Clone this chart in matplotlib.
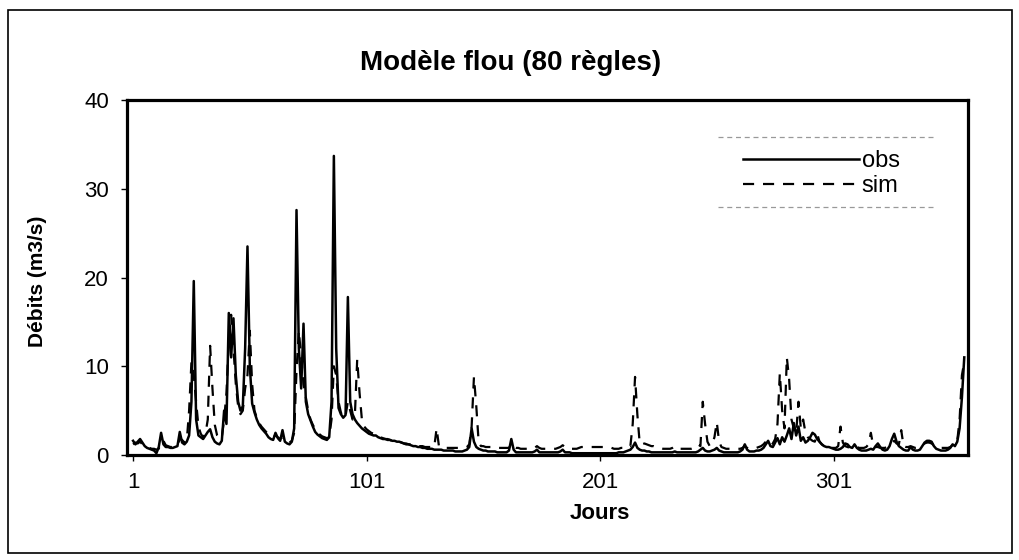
import numpy as np
import matplotlib
matplotlib.use("Agg")
import matplotlib.pyplot as plt
from matplotlib.patches import Rectangle
from matplotlib.lines import Line2D

plt.rcParams['font.family'] = ['Liberation Sans', 'DejaVu Sans']

# Daily discharge (m3/s), day 1 .. 357
obs = [
    1.6, 1.2, 1.5, 1.8, 1.4, 1.0, 0.8, 0.7, 0.6, 0.5,
    0.2, 0.9, 2.5, 1.2, 0.9, 0.9, 0.8, 0.8, 0.9, 1.0,
    2.6, 1.4, 1.2, 1.5, 2.2, 6.0, 19.6, 4.0, 2.2, 2.0,
    1.8, 2.2, 2.6, 2.9, 2.0, 1.5, 1.3, 1.2, 1.6, 5.0,
    3.5, 16.0, 11.0, 15.4, 9.0, 6.0, 5.0, 5.5, 12.0, 23.5,
    10.0, 5.8, 4.8, 4.0, 3.4, 3.0, 2.7, 2.4, 2.0, 1.8,
    1.7, 2.5, 1.9, 1.6, 2.8, 1.5, 1.3, 1.2, 1.5, 3.0,
    27.6, 12.0, 7.5, 14.8, 6.0, 4.6, 3.9, 3.2, 2.6, 2.3,
    2.1, 1.9, 1.8, 1.7, 2.0, 6.0, 33.7, 12.0, 5.3, 4.6,
    4.2, 4.5, 17.8, 6.0, 4.6, 4.0, 3.6, 3.3, 3.0, 2.8,
    2.6, 2.4, 2.3, 2.2, 2.2, 2.0, 1.9, 1.8, 1.8, 1.7,
    1.7, 1.6, 1.6, 1.5, 1.5, 1.4, 1.3, 1.2, 1.2, 1.1,
    1.0, 1.0, 0.9, 0.9, 0.8, 0.8, 0.7, 0.7, 0.7, 0.6,
    0.6, 0.6, 0.6, 0.5, 0.5, 0.5, 0.5, 0.5, 0.4, 0.4,
    0.4, 0.4, 0.5, 0.6, 0.9, 3.0, 1.5, 0.9, 0.7, 0.6,
    0.5, 0.5, 0.4, 0.4, 0.4, 0.4, 0.3, 0.3, 0.3, 0.3,
    0.3, 0.5, 1.8, 0.6, 0.3, 0.3, 0.3, 0.3, 0.3, 0.3,
    0.3, 0.3, 0.4, 0.6, 0.3, 0.3, 0.3, 0.3, 0.3, 0.3,
    0.3, 0.3, 0.3, 0.4, 0.6, 0.3, 0.3, 0.3, 0.2, 0.2,
    0.2, 0.2, 0.2, 0.2, 0.2, 0.2, 0.2, 0.2, 0.2, 0.2,
    0.2, 0.2, 0.2, 0.2, 0.2, 0.2, 0.2, 0.2, 0.3, 0.3,
    0.3, 0.4, 0.5, 0.6, 0.9, 1.4, 0.8, 0.6, 0.5, 0.5,
    0.4, 0.4, 0.3, 0.3, 0.3, 0.3, 0.3, 0.3, 0.3, 0.3,
    0.3, 0.3, 0.4, 0.3, 0.3, 0.3, 0.3, 0.3, 0.3, 0.3,
    0.3, 0.3, 0.4, 0.6, 0.8, 0.5, 0.4, 0.4, 0.5, 0.6,
    0.8, 0.5, 0.4, 0.3, 0.3, 0.3, 0.3, 0.3, 0.3, 0.3,
    0.4, 0.6, 1.2, 0.6, 0.4, 0.4, 0.4, 0.5, 0.5, 0.6,
    0.8, 1.2, 1.6, 1.0, 0.9, 1.4, 1.9, 1.2, 2.0, 1.5,
    2.2, 3.0, 1.8, 3.6, 2.2, 3.2, 1.6, 2.0, 1.4, 1.6,
    2.0, 2.5, 2.3, 1.8, 1.5, 1.2, 1.0, 0.9, 0.9, 0.8,
    0.7, 0.6, 0.6, 0.7, 0.9, 1.3, 1.2, 0.9, 0.8, 1.2,
    0.8, 0.6, 0.5, 0.5, 0.5, 0.6, 0.7, 0.6, 1.0, 1.3,
    0.9, 0.6, 0.5, 0.6, 1.0, 1.8, 2.4, 1.5, 1.0, 0.8,
    0.6, 0.5, 0.5, 0.9, 0.6, 0.5, 0.5, 0.6, 1.0, 1.4,
    1.6, 1.6, 1.5, 1.0, 0.7, 0.6, 0.5, 0.5, 0.5, 0.6,
    0.8, 1.2, 1.0, 1.5, 3.0, 6.5, 11.0,
]

sim = [
    1.2, 1.4, 1.3, 1.5, 1.2, 1.0, 0.9, 0.8, 0.7, 0.7,
    0.6, 0.7, 1.5, 1.6, 1.1, 1.0, 0.9, 0.9, 1.0, 1.1,
    1.8, 1.7, 1.4, 1.6, 5.0, 10.5, 9.0, 6.0, 3.2, 2.4,
    2.0, 2.4, 4.0, 12.3, 7.5, 3.4, 2.2, 1.8, 2.0, 4.0,
    7.0, 13.0, 15.8, 12.0, 8.0, 5.5, 4.6, 5.0, 7.5, 9.0,
    14.0, 8.0, 5.0, 4.2, 3.6, 3.2, 2.9, 2.6, 2.3, 2.1,
    2.0, 2.2, 2.0, 1.8, 2.0, 1.7, 1.5, 1.4, 1.6, 2.5,
    9.5, 14.0, 11.0, 8.0, 6.5, 5.0, 4.0, 3.4, 2.9, 2.6,
    2.3, 2.1, 2.0, 1.9, 2.0, 4.0, 10.0, 9.0, 6.0, 4.8,
    4.2, 4.4, 6.0, 5.0, 4.0, 4.5, 10.8, 7.0, 4.0, 3.2,
    2.9, 2.7, 2.5, 2.4, 2.3, 2.1, 2.0, 1.9, 1.8, 1.8,
    1.7, 1.6, 1.6, 1.5, 1.5, 1.4, 1.3, 1.3, 1.2, 1.2,
    1.1, 1.1, 1.0, 1.0, 1.0, 0.9, 0.9, 0.9, 0.9, 0.9,
    3.0, 1.0, 0.9, 0.9, 0.8, 0.8, 0.8, 0.8, 0.8, 0.8,
    0.8, 0.8, 0.8, 0.9, 1.2, 3.2, 8.8, 5.5, 1.5, 1.0,
    1.0, 0.9, 0.9, 0.9, 0.9, 0.8, 0.8, 0.8, 0.8, 0.8,
    0.8, 0.8, 1.2, 0.9, 0.8, 0.8, 0.7, 0.7, 0.7, 0.7,
    0.7, 0.7, 0.8, 1.0, 0.8, 0.7, 0.7, 0.7, 0.7, 0.7,
    0.7, 0.7, 0.8, 0.9, 1.1, 0.9, 0.7, 0.7, 0.7, 0.7,
    0.7, 0.8, 0.9, 0.9, 0.9, 0.9, 0.9, 0.9, 0.9, 0.9,
    0.9, 0.9, 0.9, 0.9, 0.9, 0.8, 0.7, 0.7, 0.7, 0.8,
    0.8, 0.9, 1.1, 1.0, 3.5, 8.8, 4.5, 1.3, 1.2, 1.3,
    1.2, 1.1, 1.0, 1.0, 0.9, 0.8, 0.8, 0.7, 0.7, 0.7,
    0.7, 0.8, 1.0, 0.8, 0.7, 0.7, 0.7, 0.7, 0.7, 0.7,
    0.8, 0.9, 1.2, 1.0, 6.0, 3.5, 1.5, 1.0, 1.2, 2.0,
    3.7, 1.5, 0.9, 0.8, 0.7, 0.7, 0.7, 0.7, 0.7, 0.7,
    0.7, 0.8, 1.0, 0.8, 0.7, 0.7, 0.7, 0.8, 0.9, 1.0,
    1.2, 1.5, 1.2, 1.0, 1.3, 1.8, 3.5, 9.2, 5.0, 3.0,
    11.0, 8.5, 4.0, 3.0, 2.5, 6.0, 3.0, 4.0, 2.5, 2.0,
    1.8, 1.6, 1.5, 2.4, 1.5, 1.2, 1.0, 0.9, 0.9, 0.8,
    0.8, 0.8, 1.0, 3.2, 1.4, 1.0, 0.9, 0.8, 0.8, 0.9,
    0.9, 0.8, 0.8, 0.8, 0.9, 1.2, 2.5, 1.0, 0.9, 0.9,
    0.8, 0.8, 0.8, 0.9, 1.1, 1.4, 1.6, 1.3, 1.2, 2.8,
    1.0, 0.9, 0.9, 1.0, 0.9, 0.8, 0.8, 0.9, 1.1, 1.3,
    1.4, 1.4, 1.3, 1.1, 0.9, 0.8, 0.8, 0.8, 0.8, 0.8,
    0.9, 1.1, 1.2, 1.6, 4.0, 9.0, 10.5,
]

days = np.arange(1, len(obs) + 1)
x_ticks = [1, 101, 201, 301]
y_ticks = [0, 10, 20, 30, 40]

fig = plt.figure(figsize=(10.19, 5.6), dpi=100)
ax = fig.add_axes([127 / 1019, 1 - 455 / 560, 841 / 1019, 355 / 560])

ax.plot(days, obs, color='black', lw=1.8, label='obs')
ax.plot(days, sim, color='black', lw=1.6, ls=(0, (5, 4)), label='sim')

ax.set_xlim(-1.6, 358.6)
ax.set_ylim(0, 40)
ax.set_xticks(x_ticks)
ax.set_yticks(y_ticks)
ax.tick_params(direction='out', length=4, width=1, labelsize=16)
ax.tick_params(axis='y', pad=9)
ax.tick_params(axis='x', pad=8)
for s in ax.spines.values():
    s.set_linewidth(2.3)

ax.set_xlabel('Jours', fontsize=16, fontweight='bold')
ax.xaxis.set_label_coords(0.5625, -0.135)
ax.set_ylabel('Débits (m3/s)', fontsize=15, fontweight='bold')
ax.yaxis.set_label_coords(-0.095, 0.49)

fig.text(511 / 1019, 1 - 63 / 560, 'Modèle flou (80 règles)',
         ha='center', va='center', fontsize=20, fontweight='bold')

# legend: entries without frame, dashed grey rules above and below
leg = ax.legend(loc='upper left', bbox_to_anchor=(0.733, 0.858), fontsize=17,
                handlelength=4.9, frameon=False, borderpad=0,
                labelspacing=0.1, handletextpad=0.1, borderaxespad=0)
for yy in (0.896, 0.699):
    ax.add_line(Line2D([0.703, 0.961], [yy, yy], transform=ax.transAxes,
                       color='#999999', lw=0.9, ls=(0, (4, 3))))

fig.patches.append(Rectangle((8 / 1019, 7 / 560), 1004 / 1019, 543 / 560,
                             transform=fig.transFigure, fill=False,
                             edgecolor='black', lw=1.2))

fig.savefig('out.png', dpi=100)
